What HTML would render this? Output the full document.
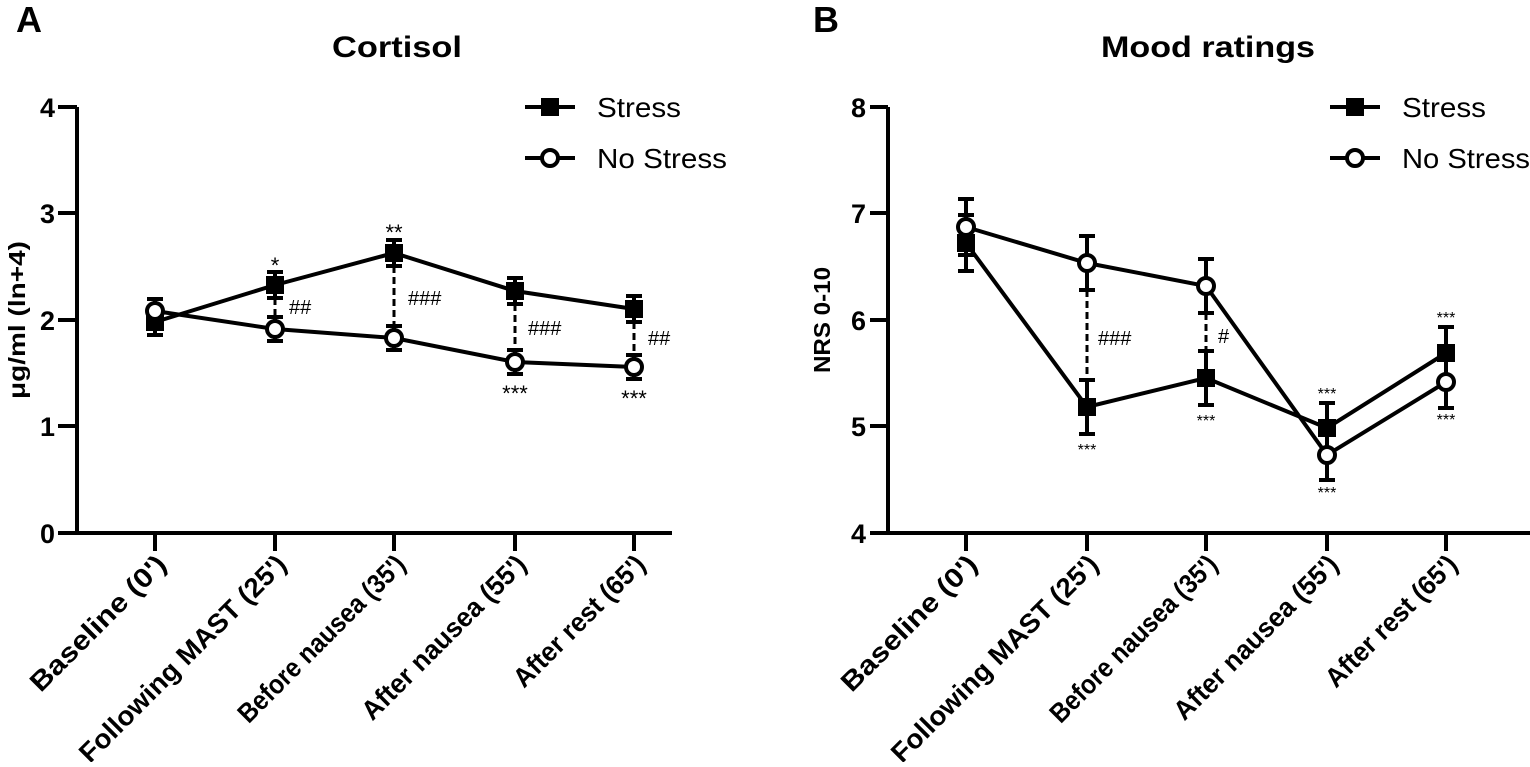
<!DOCTYPE html>
<html><head><meta charset="utf-8"><style>
html,body{margin:0;padding:0;background:#fff}
svg text{font-family:"Liberation Sans",Arial,sans-serif}
</style></head><body>
<svg width="1530" height="762" viewBox="0 0 1530 762" xmlns="http://www.w3.org/2000/svg">
<g fill="#000">
<text x="16" y="32" font-size="36" font-weight="bold">A</text>
<text x="813" y="32" font-size="36" font-weight="bold">B</text>
<text x="397" y="57" font-size="30" font-weight="bold" text-anchor="middle" textLength="130" lengthAdjust="spacingAndGlyphs">Cortisol</text>
<text x="1208" y="57" font-size="30" font-weight="bold" text-anchor="middle" textLength="214" lengthAdjust="spacingAndGlyphs">Mood ratings</text>
</g>
<!-- Panel A axes -->
<g stroke="#000" stroke-width="4" fill="none">
<path d="M77,107 V533 H672"/>
<path d="M58,107H77M58,213H77M58,320H77M58,426H77M58,533H77"/>
<path d="M155,533V551M275,533V551M394,533V551M515,533V551M634,533V551"/>
</g>
<g font-size="27" font-weight="bold" text-anchor="end">
<text x="55" y="117" textLength="15" lengthAdjust="spacingAndGlyphs">4</text><text x="55" y="223" textLength="15" lengthAdjust="spacingAndGlyphs">3</text><text x="55" y="330" textLength="15" lengthAdjust="spacingAndGlyphs">2</text><text x="55" y="436" textLength="15" lengthAdjust="spacingAndGlyphs">1</text><text x="55" y="543" textLength="15" lengthAdjust="spacingAndGlyphs">0</text>
</g>
<text transform="translate(25,320) rotate(-90)" font-size="23" font-weight="bold" text-anchor="middle" textLength="158" lengthAdjust="spacingAndGlyphs">μg/ml (ln+4)</text>
<g font-size="27" font-weight="bold" text-anchor="end">
<text transform="translate(168,566) rotate(-45)" textLength="180" lengthAdjust="spacingAndGlyphs">Baseline (0')</text>
<text transform="translate(288,566) rotate(-45)" textLength="280" lengthAdjust="spacingAndGlyphs">Following MAST (25')</text>
<text transform="translate(407,566) rotate(-45)" textLength="224" lengthAdjust="spacingAndGlyphs">Before nausea (35')</text>
<text transform="translate(528,566) rotate(-45)" textLength="220" lengthAdjust="spacingAndGlyphs">After nausea (55')</text>
<text transform="translate(647,566) rotate(-45)" textLength="174" lengthAdjust="spacingAndGlyphs">After rest (65')</text>
</g>
<!-- A dashed -->
<g stroke="#000" stroke-width="3" stroke-dasharray="7,4">
<line x1="275" y1="298" x2="275" y2="316"/>
<line x1="394" y1="266" x2="394" y2="325"/>
<line x1="515" y1="304" x2="515" y2="349"/>
<line x1="634" y1="322" x2="634" y2="354"/>
</g>
<g font-size="20" font-family="Liberation Serif">
<text x="289" y="314">##</text>
<text x="408" y="305">###</text>
<text x="528" y="335">###</text>
<text x="648" y="345">##</text>
</g>
<g font-size="22" text-anchor="middle">
<text x="275" y="273">*</text><text x="394" y="240">**</text>
<text x="515" y="401">***</text><text x="634" y="406">***</text>
</g>
<!-- A error bars -->
<g stroke="#000" stroke-width="4">
<path d="M155,309V335M147,309H163M147,335H163"/>
<path d="M275,272V298M267,272H283M267,298H283"/>
<path d="M394,240V266M386,240H402M386,266H402"/>
<path d="M515,278V304M507,278H523M507,304H523"/>
<path d="M634,296V322M626,296H642M626,322H642"/>
<path d="M155,299V323M147,299H163M147,323H163"/>
<path d="M275,317V341M267,317H283M267,341H283"/>
<path d="M394,326V350M386,326H402M386,350H402"/>
<path d="M515,350V374M507,350H523M507,374H523"/>
<path d="M634,355V379M626,355H642M626,379H642"/>
</g>
<polyline points="155,322 275,285 394,253 515,291 634,309" fill="none" stroke="#000" stroke-width="4"/>
<polyline points="155,311 275,329 394,338 515,362 634,367" fill="none" stroke="#000" stroke-width="4"/>
<g fill="#000">
<rect x="146" y="313" width="18" height="18"/><rect x="266" y="276" width="18" height="18"/><rect x="385" y="244" width="18" height="18"/><rect x="506" y="282" width="18" height="18"/><rect x="625" y="300" width="18" height="18"/>
</g>
<g fill="#fff" stroke="#000" stroke-width="4">
<circle cx="155" cy="311" r="8"/><circle cx="275" cy="329" r="8"/><circle cx="394" cy="338" r="8"/><circle cx="515" cy="362" r="8"/><circle cx="634" cy="367" r="8"/>
</g>
<!-- A legend -->
<g stroke="#000" stroke-width="4"><line x1="525" y1="107" x2="575" y2="107"/><line x1="525" y1="158" x2="575" y2="158"/></g>
<rect x="541" y="98" width="18" height="18" fill="#000"/>
<circle cx="550" cy="158" r="8" fill="#fff" stroke="#000" stroke-width="4"/>
<text x="597" y="117" font-size="28" textLength="84" lengthAdjust="spacingAndGlyphs">Stress</text>
<text x="597" y="168" font-size="28" textLength="130" lengthAdjust="spacingAndGlyphs">No Stress</text>

<!-- Panel B axes -->
<g stroke="#000" stroke-width="4" fill="none">
<path d="M888,107 V533 H1530"/>
<path d="M870,107H888M870,213H888M870,320H888M870,426H888M870,533H888"/>
<path d="M966,533V551M1087,533V551M1206,533V551M1327,533V551M1446,533V551"/>
</g>
<g font-size="27" font-weight="bold" text-anchor="end">
<text x="866" y="117" textLength="15" lengthAdjust="spacingAndGlyphs">8</text><text x="866" y="223" textLength="15" lengthAdjust="spacingAndGlyphs">7</text><text x="866" y="330" textLength="15" lengthAdjust="spacingAndGlyphs">6</text><text x="866" y="436" textLength="15" lengthAdjust="spacingAndGlyphs">5</text><text x="866" y="543" textLength="15" lengthAdjust="spacingAndGlyphs">4</text>
</g>
<text transform="translate(830,320) rotate(-90)" font-size="23" font-weight="bold" text-anchor="middle" textLength="106" lengthAdjust="spacingAndGlyphs">NRS 0-10</text>
<g font-size="27" font-weight="bold" text-anchor="end">
<text transform="translate(979,566) rotate(-45)" textLength="180" lengthAdjust="spacingAndGlyphs">Baseline (0')</text>
<text transform="translate(1100,566) rotate(-45)" textLength="280" lengthAdjust="spacingAndGlyphs">Following MAST (25')</text>
<text transform="translate(1219,566) rotate(-45)" textLength="224" lengthAdjust="spacingAndGlyphs">Before nausea (35')</text>
<text transform="translate(1340,566) rotate(-45)" textLength="220" lengthAdjust="spacingAndGlyphs">After nausea (55')</text>
<text transform="translate(1459,566) rotate(-45)" textLength="174" lengthAdjust="spacingAndGlyphs">After rest (65')</text>
</g>
<g stroke="#000" stroke-width="3" stroke-dasharray="7,4">
<line x1="1087" y1="290" x2="1087" y2="380"/>
<line x1="1206" y1="313" x2="1206" y2="350"/>
</g>
<g font-size="20" font-family="Liberation Serif">
<text x="1098" y="345">###</text>
<text x="1218" y="343">#</text>
</g>
<g font-size="16" text-anchor="middle">
<text x="1087" y="455">***</text><text x="1206" y="426">***</text>
<text x="1327" y="399">***</text><text x="1327" y="498">***</text>
<text x="1446" y="323">***</text><text x="1446" y="425">***</text>
</g>
<g stroke="#000" stroke-width="4">
<path d="M966,215V271M958,215H974M958,271H974"/>
<path d="M1087,380V434M1079,380H1095M1079,434H1095"/>
<path d="M1206,351V405M1198,351H1214M1198,405H1214"/>
<path d="M1327,403V453M1319,403H1335M1319,453H1335"/>
<path d="M1446,327V379M1438,327H1454M1438,379H1454"/>
<path d="M966,199V255M958,199H974M958,255H974"/>
<path d="M1087,236V290M1079,236H1095M1079,290H1095"/>
<path d="M1206,259V313M1198,259H1214M1198,313H1214"/>
<path d="M1327,430V480M1319,430H1335M1319,480H1335"/>
<path d="M1446,356V408M1438,356H1454M1438,408H1454"/>
</g>
<polyline points="966,243 1087,407 1206,378 1327,428 1446,353" fill="none" stroke="#000" stroke-width="4"/>
<polyline points="966,227 1087,263 1206,286 1327,455 1446,382" fill="none" stroke="#000" stroke-width="4"/>
<g fill="#000">
<rect x="957" y="234" width="18" height="18"/><rect x="1078" y="398" width="18" height="18"/><rect x="1197" y="369" width="18" height="18"/><rect x="1318" y="419" width="18" height="18"/><rect x="1437" y="344" width="18" height="18"/>
</g>
<g fill="#fff" stroke="#000" stroke-width="4">
<circle cx="966" cy="227" r="8"/><circle cx="1087" cy="263" r="8"/><circle cx="1206" cy="286" r="8"/><circle cx="1327" cy="455" r="8"/><circle cx="1446" cy="382" r="8"/>
</g>
<g stroke="#000" stroke-width="4"><line x1="1330" y1="107" x2="1380" y2="107"/><line x1="1330" y1="158" x2="1380" y2="158"/></g>
<rect x="1346" y="98" width="18" height="18" fill="#000"/>
<circle cx="1355" cy="158" r="8" fill="#fff" stroke="#000" stroke-width="4"/>
<text x="1402" y="117" font-size="28" textLength="84" lengthAdjust="spacingAndGlyphs">Stress</text>
<text x="1402" y="168" font-size="28" textLength="128" lengthAdjust="spacingAndGlyphs">No Stress</text>
</svg>
</body></html>
